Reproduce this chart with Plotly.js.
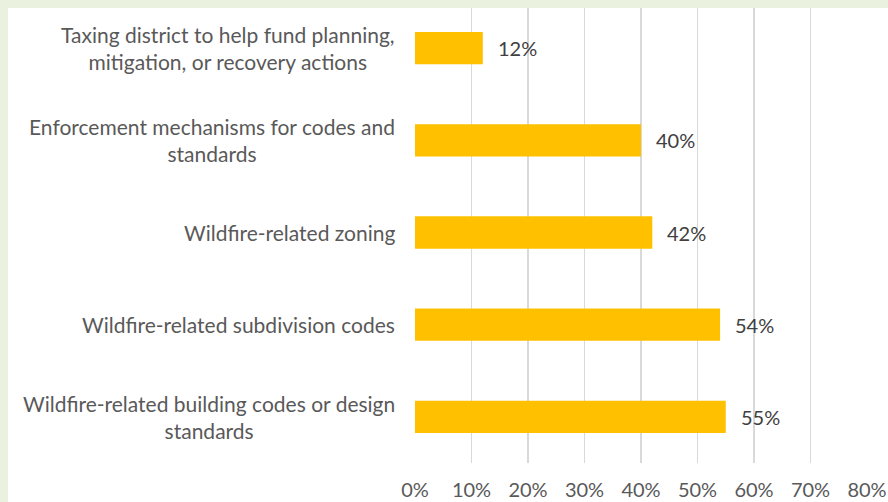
<!DOCTYPE html>
<html><head><meta charset="utf-8">
<script src="https://cdn.plot.ly/plotly-3.0.1.min.js"></script>
<style>
html,body{margin:0;padding:0;background:#fff;}
#wrap{position:relative;width:888px;height:502px;overflow:hidden;}
#chart{position:absolute;left:0;top:0;width:888px;height:502px;}
.gb{position:absolute;background:#EAF1DE;z-index:10;}
</style></head>
<body>
<div id="wrap">
<div id="chart"></div>
<div class="gb" style="left:0;top:0;width:888px;height:8px;"></div>
<div class="gb" style="left:0;top:0;width:8px;height:502px;"></div>
</div>
<script>
const categories = [
  "Taxing district to help fund planning,<br>mitigation, or recovery actions",
  "Enforcement mechanisms for codes and<br>standards",
  "Wildfire-related zoning",
  "Wildfire-related subdivision codes",
  "Wildfire-related building codes or design<br>standards"
];
const values = [0.12, 0.40, 0.42, 0.54, 0.55];
const tickVals = [0,0.1,0.2,0.3,0.4,0.5,0.6,0.7,0.8];
const tickText = ["0%","10%","20%","30%","40%","50%","60%","70%","80%"];

const FONT = "Lato, 'Open Sans', sans-serif";
const cats = categories.map((c,i)=>"c"+i);

const trace = {
  type:'bar', orientation:'h',
  x: values, y: cats,
  marker:{color:'#FFC000'},
  hoverinfo:'none'
};

const ann = [];
values.forEach((v,i)=>{
  ann.push({x:v, y:cats[i], xref:'x', yref:'y', text: Math.round(v*100)+'%',
    showarrow:false, xanchor:'left', yanchor:'middle', xshift:13,
    font:{family:FONT, size:20, color:'#404040'}});
  ann.push({x:0, y:cats[i], xref:'paper', yref:'y', text: categories[i],
    showarrow:false, xanchor:'right', yanchor:'middle', align:'center', xshift:-18,
    font:{family:FONT, size:21, color:'#595959'}});
});

const layout = {
  width:888, height:502,
  margin:{l:415, r:21, t:2, b:39},
  paper_bgcolor:'#ffffff', plot_bgcolor:'#ffffff',
  showlegend:false,
  bargap:0.65,
  xaxis:{range:[0,0.8], tickvals:tickVals, ticktext:tickText,
    showgrid:true, gridcolor:'#D9D9D9', gridwidth:1.8,
    zeroline:false, showline:false,
    ticks:'outside', ticklen:9, tickcolor:'rgba(0,0,0,0)',
    tickfont:{family:FONT, size:20, color:'#595959'}, fixedrange:true},
  yaxis:{categoryarray:cats, categoryorder:'array', autorange:'reversed',
    showticklabels:false, showgrid:false, zeroline:false, showline:false, ticks:'', fixedrange:true},
  annotations: ann
};
Plotly.newPlot('chart',[trace],layout,{displayModeBar:false, staticPlot:true});
</script>
</body></html>
